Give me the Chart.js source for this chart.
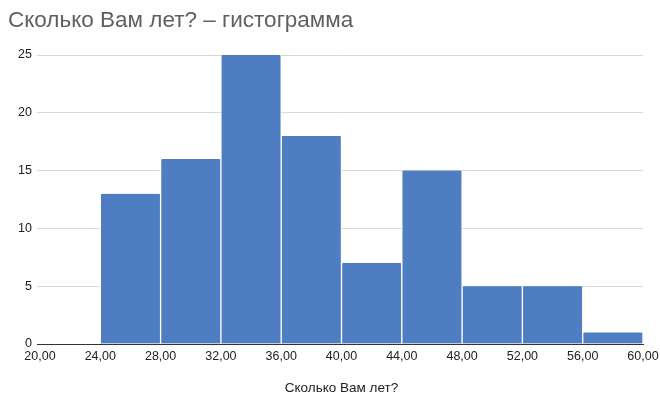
<!DOCTYPE html>
<html>
<head>
<meta charset="utf-8">
<script src="https://cdn.jsdelivr.net/npm/chart.js@4"></script>
<style>
  html, body { margin: 0; padding: 0; background: #fff; }
  #wrap { width: 660px; height: 398px; position: relative; }
</style>
</head>
<body>
<div id="wrap"><canvas id="histChart"></canvas></div>
<script>
// Histogram data: bin centers (age) and counts
const binCenters = [22, 26, 30, 34, 38, 42, 46, 50, 54, 58];
const counts = [0, 13, 16, 25, 18, 7, 15, 5, 5, 1];
const yTicks = [0, 5, 10, 15, 20, 25];

const FONT = 'Liberation Sans, Arial, sans-serif';

const ctx = document.getElementById('histChart');
new Chart(ctx, {
  type: 'bar',
  data: {
    datasets: [{
      label: 'Сколько Вам лет?',
      data: binCenters.map((x, i) => ({ x: x, y: counts[i] })),
      backgroundColor: '#4f7dc1',
      borderColor: '#ffffff',
      borderWidth: { left: 1, right: 1, top: 0, bottom: 0 },
      borderSkipped: 'bottom',
      borderRadius: { topLeft: 2, topRight: 2 },
      barPercentage: 1,
      categoryPercentage: 1
    }]
  },
  options: {
    responsive: true,
    maintainAspectRatio: false,
    animation: false,
    layout: { padding: { left: 8, right: 17, top: 0, bottom: 0 } },
    plugins: {
      legend: { display: false },
      tooltip: { enabled: false },
      title: {
        display: true,
        text: 'Сколько Вам лет? – гистограмма',
        align: 'start',
        color: '#5f5f5f',
        font: { family: FONT, size: 22.5, weight: 'normal' },
        padding: { top: 7, bottom: 21 }
      }
    },
    scales: {
      x: {
        type: 'linear',
        min: 20,
        max: 60,
        offset: false,
        afterFit: (scale) => {
          scale.height = 54;
          scale.paddingLeft = 0;
          scale.paddingRight = 0;
        },
        afterBuildTicks: (scale) => {
          scale.ticks = [];
          for (let v = 20; v <= 60; v += 4) scale.ticks.push({ value: v });
        },
        grid: { display: false, drawTicks: false },
        border: { display: true, color: '#333333', width: 1 },
        ticks: {
          color: '#222222',
          padding: 5,
          maxRotation: 0,
          autoSkip: false,
          font: { family: FONT, size: 12.5 },
          callback: (v) => v.toFixed(2).replace('.', ',')
        },
        title: {
          display: true,
          text: 'Сколько Вам лет?',
          color: '#222222',
          font: { family: FONT, size: 13.5 },
          padding: { top: 0, bottom: 2 }
        }
      },
      y: {
        min: 0,
        max: 25,
        afterFit: (scale) => { scale.width = 32; },
        afterBuildTicks: (scale) => {
          scale.ticks = yTicks.map(v => ({ value: v }));
        },
        grid: {
          color: (c) => c.tick && c.tick.value === 0 ? '#333333' : '#d9d9d9',
          tickColor: (c) => c.tick && c.tick.value === 0 ? '#333333' : '#d9d9d9',
          tickLength: 3,
          drawTicks: true
        },
        border: { display: false },
        ticks: {
          color: '#222222',
          padding: 5,
          font: { family: FONT, size: 12.5 }
        }
      }
    }
  }
});
</script>
</body>
</html>
